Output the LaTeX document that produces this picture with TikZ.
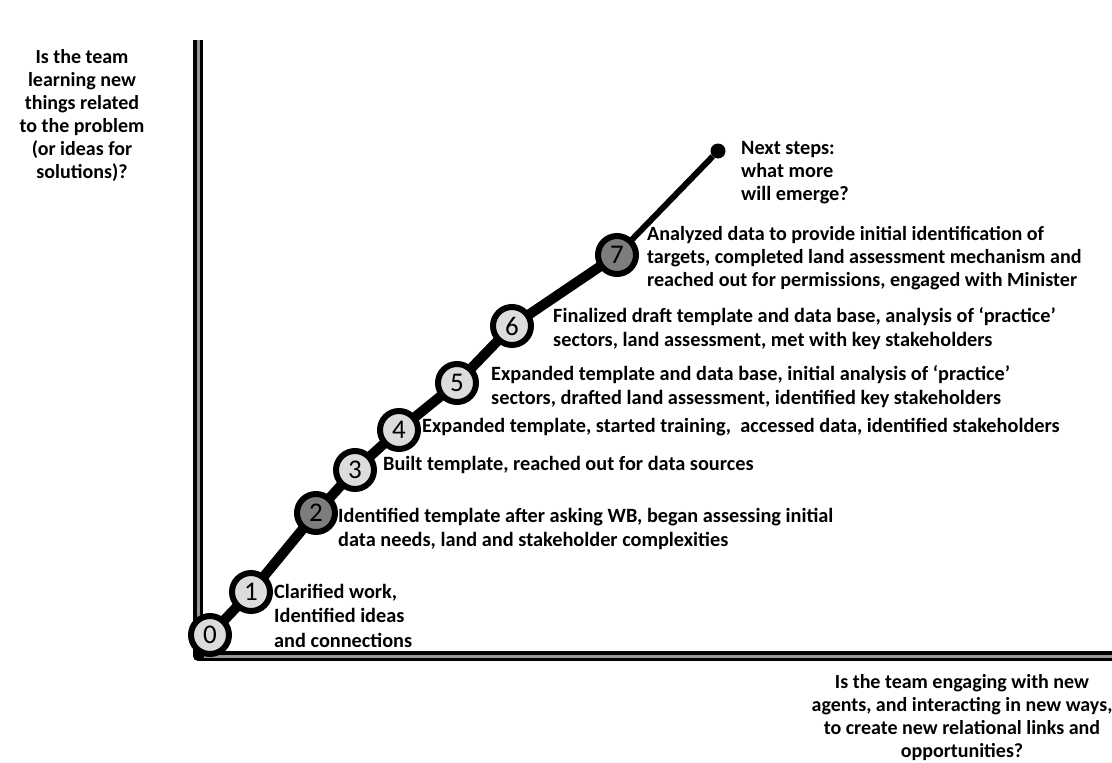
\documentclass[tikz,border=0pt]{standalone}
\usepackage{fontspec}
\setmainfont{Carlito}
\begin{document}
\begin{tikzpicture}[x=1pt,y=-1pt,
  stage/.style={circle,draw=black,line width=6pt,fill=lightfill,minimum size=38pt,inner sep=0pt,font=\fontsize{27}{27}\selectfont},
  darkstage/.style={stage,fill=darkfill},
  lbl/.style={anchor=north west,align=left,inner sep=0pt,font=\fontsize{20.3}{24.5}\selectfont\bfseries},
  axlbl/.style={align=center,inner sep=0pt,font=\fontsize{20}{23}\selectfont\bfseries},
  axis/.style={line width=10pt,line join=round},
  axisin/.style={line width=3pt,draw=axisgray}]
\definecolor{lightfill}{RGB}{220,220,220}
\definecolor{darkfill}{RGB}{125,125,125}
\definecolor{axisgray}{RGB}{150,150,150}
\useasboundingbox (0,0) rectangle (1112,763);
% axes
\coordinate (top) at (198,40);
\coordinate (corner) at (198,656);
\coordinate (right) at (1112,656);
\draw[axis] (top) -- (corner) -- (right);
\draw[axisin] (198,40) -- (198,650);
\draw[axisin] (204,656) -- (1112,656);
% stage node positions
\coordinate (p0) at (210,635);
\coordinate (p1) at (251,592);
\coordinate (p2) at (316,513);
\coordinate (p3) at (355,470);
\coordinate (p4) at (399,430);
\coordinate (p5) at (457,383);
\coordinate (p6) at (512,326);
\coordinate (p7) at (617,255);
\node[circle,fill=black,minimum size=15pt,inner sep=0pt] (end) at (718,151) {};
\draw[line width=10pt,line join=round] (p0) -- (p1) -- (p2) -- (p3) -- (p4) -- (p5) -- (p6) -- (p7);
\draw[line width=6pt] (p7) -- (end);
\node[stage] (n0) at (p0) {0};
\node[stage] (n1) at (p1) {1};
\node[darkstage] (n2) at (p2) {2};
\node[stage] (n3) at (p3) {3};
\node[stage] (n4) at (p4) {4};
\node[stage] (n5) at (p5) {5};
\node[stage] (n6) at (p6) {6};
\node[darkstage] (n7) at (p7) {7};
% labels
\node[lbl] (t1) at (274,584) {Clarified work,\\Identified ideas\\and connections};
\node[lbl] (t2) at (338,508) {Identified template after asking WB, began assessing initial\\data needs, land and stakeholder complexities};
\node[lbl] (t3) at (383,456) {Built template, reached out for data sources};
\node[lbl] (t4) at (422,418) {Expanded template, started training,\ \ accessed data, identified stakeholders};
\node[lbl] (t5) at (491,365) {Expanded template and data base, initial analysis of ‘practice’\\sectors, drafted land assessment, identified key stakeholders};
\node[lbl] (t6) at (553,307) {Finalized draft template and data base, analysis of ‘practice’\\sectors, land assessment, met with key stakeholders};
\node[lbl,font=\fontsize{20.1}{23}\selectfont\bfseries] (t7) at (647,226) {Analyzed data to provide initial identification of\\targets, completed land assessment mechanism and\\reached out for permissions, engaged with Minister};
\node[lbl,font=\fontsize{20.3}{23}\selectfont\bfseries] (t8) at (741,141) {Next steps:\\what more\\will emerge?};
\node[axlbl] (ylab) at (82,115) {Is the team\\learning new\\things related\\to the problem\\(or ideas for\\solutions)?};
\node[axlbl] (xlab) at (962,718) {Is the team engaging with new\\agents, and interacting in new ways,\\to create new relational links and\\opportunities?};
\end{tikzpicture}
\end{document}
